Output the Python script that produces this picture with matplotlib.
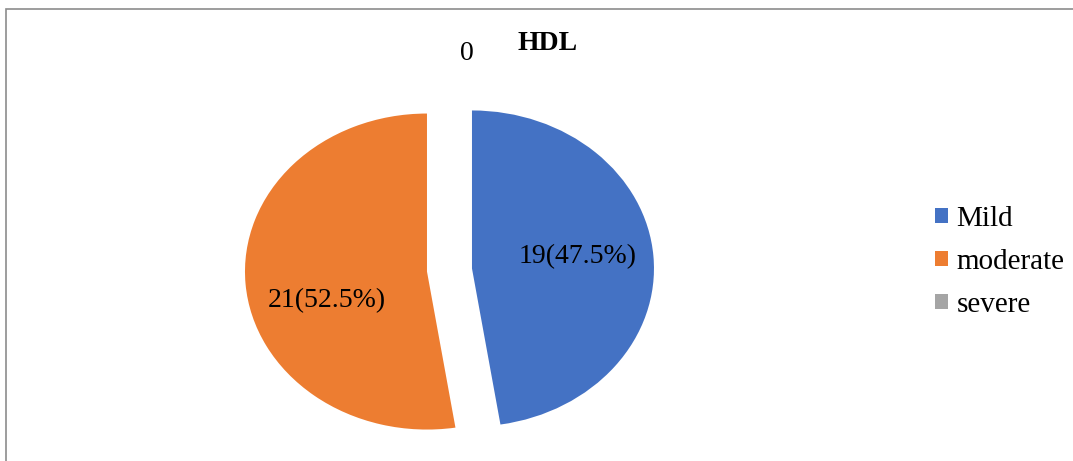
import numpy as np
import matplotlib
matplotlib.use('Agg')
from matplotlib import pyplot as plt
from matplotlib.patches import Rectangle

categories = ['Mild', 'moderate', 'severe']
counts = [19, 21, 0]
colors = ['#4472C4', '#ED7D31', '#A5A5A5']
title = 'HDL'

total = sum(counts)

def fmt(pct):
    n = int(round(pct * total / 100.0))
    if n == 0:
        return ''
    return '%d(%.1f%%)' % (n, pct)

plt.rcParams['font.family'] = ['Liberation Serif', 'DejaVu Serif']

fig = plt.figure(figsize=(10.73, 4.61), dpi=100)
# axes sized so the pie comes out as a wide ellipse like the original
ax = fig.add_axes([0.1984, 0.003, 0.4410, 0.8226])

zero_lbl = ['' if c else str(c) for c in counts]
wedges, texts, autotexts = ax.pie(counts, colors=colors, startangle=90,
                                  counterclock=False, explode=[0.124, 0.124, 0.0],
                                  labels=zero_lbl, labeldistance=1.37,
                                  autopct=fmt, pctdistance=0.58,
                                  textprops={'fontsize': 20, 'color': 'black'})
ax.set_aspect('auto')
ax.set_xlim(-1.3, 1.3)
ax.set_ylim(-1.2, 1.2)
for t in texts:
    t.set_ha('center')
    t.set_x(t.get_position()[0] + 0.095)
# excel puts the moderate label a bit lower
x, y = autotexts[1].get_position()
autotexts[1].set_position((x + 0.03, y - 0.14))
x, y = autotexts[0].get_position()
autotexts[0].set_position((x, y + 0.03))

fig.text(548/1073., 1 - 43/461., title, ha='center', va='center',
         fontsize=20, fontweight='bold')

leg = fig.legend(wedges, categories, loc='center left',
                 bbox_to_anchor=(909/1073., 1 - 262/461.), frameon=False,
                 fontsize=21, handlelength=0.42, handleheight=0.42,
                 handletextpad=0.3, labelspacing=0.58)

# outer border (only top and left edges are inside the picture)
fig.patches.append(Rectangle((6/1073., -0.1), 1.2, 1.1 - 9/461.,
                             transform=fig.transFigure, fill=False,
                             edgecolor='#8c8c8c', lw=1.2))

fig.savefig('out.png', dpi=100)
